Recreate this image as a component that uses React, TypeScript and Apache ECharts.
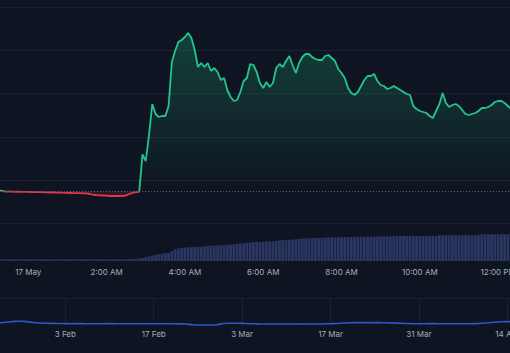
import React, { useEffect, useRef } from 'react';
import * as echarts from 'echarts';

// Price series: one value every 5 minutes, starting 45 minutes before 17 May 00:00
const priceStartMinute = -45;
const priceStepMinutes = 5;
const prices = [
  1.197, 1.192, 1.185, 1.184, 1.184, 1.183, 1.184, 1.183, 1.182, 1.182,
  1.181, 1.180, 1.179, 1.179, 1.178, 1.177, 1.176, 1.176, 1.175, 1.174,
  1.173, 1.172, 1.171, 1.170, 1.169, 1.169, 1.168, 1.168, 1.161, 1.151,
  1.149, 1.148, 1.146, 1.144, 1.141, 1.141, 1.141, 1.141, 1.142, 1.146,
  1.163, 1.173, 1.179, 1.182,
  1.558, 1.491, 1.751, 2.061, 1.961, 1.931, 1.941, 1.941, 2.041, 2.481,
  2.591, 2.681, 2.701, 2.731, 2.771, 2.721, 2.601, 2.431, 2.471, 2.431,
  2.471, 2.391, 2.421, 2.381, 2.301, 2.321, 2.201, 2.131, 2.091, 2.101,
  2.181, 2.291, 2.321, 2.461, 2.451, 2.381, 2.271, 2.221, 2.281, 2.231,
  2.271, 2.421, 2.461, 2.431, 2.491, 2.541, 2.451, 2.371, 2.471, 2.531,
  2.561, 2.561, 2.531, 2.511, 2.501, 2.501, 2.541, 2.551, 2.521, 2.491,
  2.411, 2.371, 2.321, 2.221, 2.171, 2.151, 2.181, 2.241, 2.301, 2.341,
  2.341, 2.361, 2.291, 2.251, 2.241, 2.211, 2.221, 2.241, 2.221, 2.201,
  2.181, 2.161, 2.151, 2.041, 2.011, 1.991, 1.981, 1.971, 1.941, 1.921,
  1.991, 2.061, 2.171, 2.071, 2.031, 2.051, 2.061, 2.041, 2.001, 1.961,
  1.951, 1.961, 1.971, 1.991, 2.021, 2.021, 2.031, 2.051, 2.081, 2.091,
  2.091, 2.071, 2.041, 2.011,
];
const baselinePrice = 1.188;

// Volume per 5-minute bar (same timestamps as prices)
const volumes = [
  17, 17, 17, 17, 17, 17, 17, 17, 17, 17,
  17, 17, 17, 17, 17, 17, 17, 17, 17, 17,
  17, 17, 17, 17, 17, 17, 17, 17, 17, 17,
  17, 17, 17, 17, 17, 17, 17, 17, 17, 17,
  19, 22, 24, 26, 30, 38, 46, 55, 62, 68,
  73, 78, 80, 98, 118, 127, 130, 134, 136, 138,
  140, 142, 143, 146, 152, 154, 155, 157, 158, 160,
  162, 165, 167, 170, 174, 177, 180, 184, 188, 190,
  192, 194, 195, 197, 199, 202, 206, 208, 210, 212,
  214, 217, 222, 224, 226, 228, 229, 230, 231, 233,
  235, 236, 237, 237, 238, 238, 239, 239, 240, 240,
  241, 242, 242, 243, 244, 244, 245, 245, 246, 246,
  247, 248, 249, 250,
  250, 250, 250, 250, 250, 250, 250, 250, 250, 250, 250,
  258, 258, 258, 258, 258, 258, 258, 258, 258, 258, 258, 258, 258,
  267, 267, 267, 267, 267, 267, 267, 267, 267, 267,
];

// Tick labels every 2 hours from -2h to +14h (the first and last ticks fall outside the visible frame)
const mainTickLabels = ['', '17 May', '2:00 AM', '4:00 AM', '6:00 AM', '8:00 AM', '10:00 AM', '12:00 PM', ''];

// Navigator: one value per day, starting 11 days before 3 Feb
const navStartDay = -11;
const navValues = [
  0.72, 0.74, 0.80, 0.86, 0.87, 0.82, 0.75, 0.70, 0.67, 0.66, 0.65, 0.64,
  0.63, 0.64, 0.63, 0.62, 0.63, 0.63, 0.64, 0.63, 0.62, 0.62, 0.63, 0.63,
  0.62, 0.63, 0.63, 0.62, 0.62, 0.61,
  0.60, 0.54, 0.50, 0.50, 0.50, 0.53,
  0.65, 0.67, 0.67, 0.66, 0.64, 0.62, 0.60,
  0.60, 0.60, 0.61, 0.60, 0.60, 0.59, 0.60,
  0.60, 0.60, 0.61, 0.63, 0.65, 0.70, 0.73, 0.74, 0.74, 0.73, 0.74, 0.73,
  0.72, 0.70, 0.67, 0.65,
  0.63, 0.63, 0.63, 0.64, 0.63, 0.63, 0.62, 0.63, 0.63, 0.63,
  0.64, 0.67, 0.72, 0.78, 0.83, 0.84, 0.84,
];
// Ticks every 14 days from -14 to 84 (first and last fall outside the visible frame)
const navTickLabels = ['', '3 Feb', '17 Feb', '3 Mar', '17 Mar', '31 Mar', '14 Apr', ''];

const BG = '#0e1421';
const GRID = '#1b2130';
const TEXT = '#a9adb7';
const FONT = 'Inter, Roboto, sans-serif';

export default function App() {
  const ref = useRef<HTMLDivElement>(null);
  useEffect(() => {
    document.body.style.margin = '0';
    const chart = echarts.init(ref.current!, null, { renderer: 'svg' });

    const priceData = prices.map((p, i) => [priceStartMinute + i * priceStepMinutes, p]);
    const volData = volumes.map((v, i) => [priceStartMinute + i * priceStepMinutes, v]);
    const navData = navValues.map((v, i) => [navStartDay + i, v]);

    const areaGrad = new echarts.graphic.LinearGradient(0, 33, 0, 200, [
      { offset: 0, color: 'rgba(38,194,129,0.36)' },
      { offset: 0.947, color: 'rgba(38,194,129,0.01)' },
      { offset: 0.948, color: 'rgba(225,50,65,0.22)' },
      { offset: 1, color: 'rgba(225,50,65,0.22)' },
    ], true);
    const lineGrad = new echarts.graphic.LinearGradient(0, 33, 0, 200, [
      { offset: 0, color: '#22c58b' },
      { offset: 0.945, color: '#22c58b' },
      { offset: 0.946, color: '#e2364a' },
      { offset: 1, color: '#e2364a' },
    ], true);

    const gridBase = { containLabel: false, outerBoundsMode: 'none' };

    chart.setOption({
      animation: false,
      backgroundColor: BG,
      textStyle: { fontFamily: FONT },
      graphic: [
        { type: 'line', shape: { x1: 0, y1: 298.5, x2: 510, y2: 298.5 }, style: { stroke: GRID, lineWidth: 1 }, silent: true },
      ],
      grid: [
        { ...gridBase, left: -50, right: -66.4, top: 7, height: 216.5 },
        { ...gridBase, left: -50, right: -66.4, top: 225, height: 36 },
        { ...gridBase, left: -23.1, right: -85.7, top: 298, height: 25.5 },
      ],
      xAxis: [
        { gridIndex: 0, type: 'value', min: -120, max: 840, interval: 120, show: false },
        {
          gridIndex: 1, type: 'value', min: -120, max: 840, interval: 120,
          axisLine: { show: false }, axisTick: { show: false }, splitLine: { show: false },
          axisLabel: {
            color: TEXT, fontSize: 8, margin: 7, fontFamily: FONT,
            formatter: (v: number) => mainTickLabels[Math.round((v + 120) / 120)] ?? '',
          },
        },
        {
          gridIndex: 2, type: 'value', min: -14, max: 84, interval: 14,
          axisLine: { show: false }, axisTick: { show: false },
          splitLine: { show: true, lineStyle: { color: GRID, width: 1 } },
          axisLabel: {
            color: TEXT, fontSize: 8, margin: 6.5, fontFamily: FONT,
            formatter: (v: number) => navTickLabels[Math.round((v + 14) / 14)] ?? '',
          },
        },
      ],
      yAxis: [
        {
          gridIndex: 0, type: 'value', min: 0.866, max: 3.031, interval: 0.433,
          axisLine: { show: false }, axisTick: { show: false }, axisLabel: { show: false },
          splitLine: { show: true, lineStyle: { color: GRID, width: 1 } },
        },
        { gridIndex: 1, type: 'value', min: 0, max: 360, show: false, splitLine: { show: false } },
        { gridIndex: 2, type: 'value', min: 0.65, max: 3.2, show: false, splitLine: { show: false } },
      ],
      series: [
        {
          type: 'bar', xAxisIndex: 1, yAxisIndex: 1, data: volData,
          barWidth: 2.8, itemStyle: { color: '#2c3662' }, silent: true,
        },
        {
          type: 'line', xAxisIndex: 0, yAxisIndex: 0, data: priceData,
          showSymbol: false, symbol: 'none', clip: false,
          lineStyle: { width: 1.8, color: lineGrad },
          itemStyle: { color: '#22c58b' },
          areaStyle: { origin: baselinePrice, color: areaGrad },
          markLine: {
            silent: true, symbol: ['none', 'none'], label: { show: false },
            lineStyle: { color: '#59606f', type: [1, 2], width: 1 },
            data: [{ yAxis: baselinePrice }],
          },
          z: 3,
        },
        {
          type: 'line', xAxisIndex: 2, yAxisIndex: 2, data: navData,
          showSymbol: false, symbol: 'none', clip: false, smooth: 0.3,
          lineStyle: { width: 1.6, color: '#2c58c8' },
        },
      ],
    });
    return () => chart.dispose();
  }, []);
  return <div ref={ref} style={{ width: 510, height: 353, background: BG }} />;
}
